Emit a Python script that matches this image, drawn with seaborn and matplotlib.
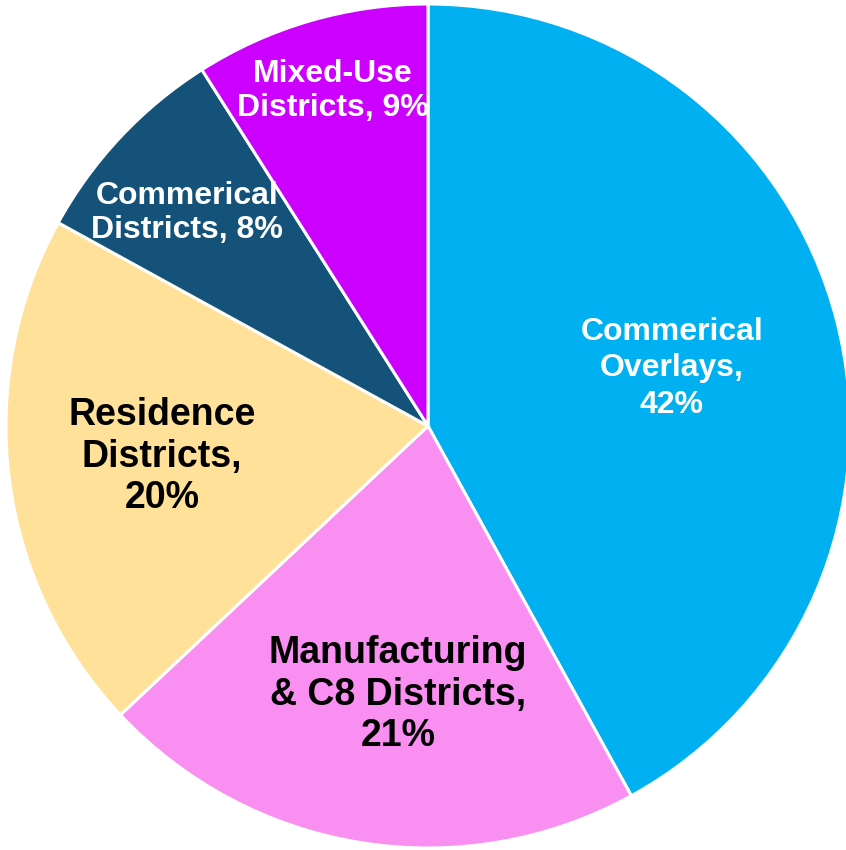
import numpy as np
import matplotlib
matplotlib.use("Agg")
import matplotlib.pyplot as plt
import seaborn as sns

sns.set_theme(style="white")
plt.rcParams["font.family"] = ["Liberation Sans", "DejaVu Sans"]

# Share of each district type, clockwise from 12 o'clock
categories = [
    "Commerical\nOverlays",
    "Manufacturing\n& C8 Districts",
    "Residence\nDistricts",
    "Commerical\nDistricts",
    "Mixed-Use\nDistricts",
]
shares = [42, 21, 20, 8, 9]
label_formats = ["{c},\n{v}%", "{c},\n{v}%", "{c},\n{v}%", "{c}, {v}%", "{c}, {v}%"]
colors = ["#00B0F0", "#FA8FF2", "#FFE199", "#15527A", "#CC00FF"]
text_colors = ["white", "black", "black", "white", "white"]
font_sizes = [23, 27, 27, 23, 23]
line_spacings = [1.29, 1.19, 1.19, 1.17, 1.17]
# label placement: radial distance and angular nudge (deg) from the wedge middle
label_dist = [0.594, 0.641, 0.634, 0.762, 0.825]
label_nudge = [-1.1, 2.6, -0.6, 1.7, -0.4]

fig = plt.figure(figsize=(8.46, 8.5), dpi=100)
ax = fig.add_axes([6 / 846, 2 / 850, 844 / 846, 844 / 850])

wedges, _ = ax.pie(
    shares,
    colors=colors,
    startangle=90,
    counterclock=False,
    radius=1.0,
    wedgeprops=dict(edgecolor="white", linewidth=2.2),
)

for w, cat, v, fmt, tc, fs, ls, d, nd in zip(
    wedges, categories, shares, label_formats, text_colors,
    font_sizes, line_spacings, label_dist, label_nudge
):
    mid = np.deg2rad((w.theta1 + w.theta2) / 2 + nd)
    txt = fmt.format(c=cat, v=v)
    ax.text(
        d * np.cos(mid), d * np.sin(mid), txt,
        ha="center", va="center", color=tc, fontsize=fs,
        fontweight="bold", linespacing=ls, multialignment="center",
    )

ax.set_xlim(-1, 1)
ax.set_ylim(-1, 1)
ax.set_aspect("equal")
ax.axis("off")

fig.savefig("out.png", dpi=100, facecolor="white")
